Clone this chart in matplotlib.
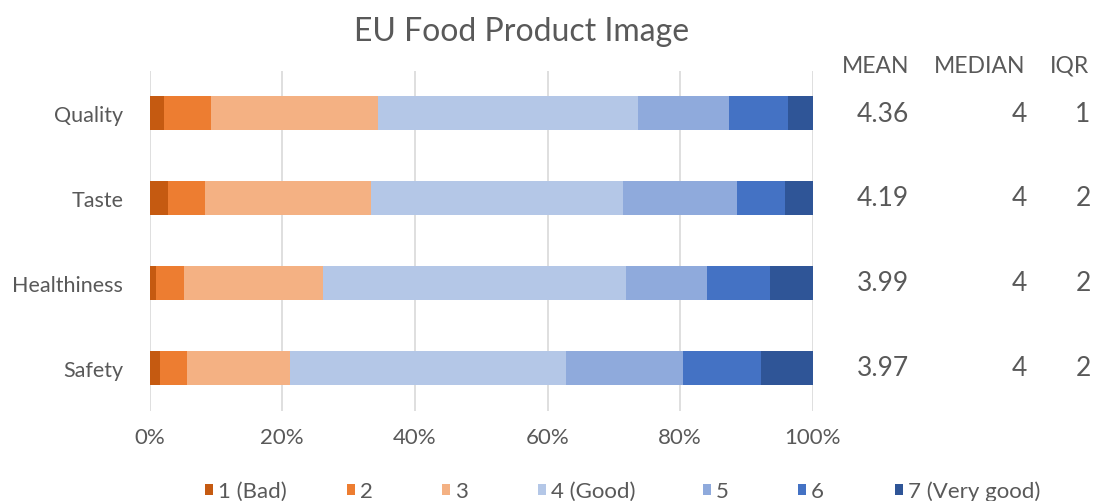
import matplotlib.pyplot as plt
import numpy as np

plt.rcParams['font.family'] = ['Lato', 'DejaVu Sans']

categories = ["Quality", "Taste", "Healthiness", "Safety"]
levels = ["1 (Bad)", "2", "3", "4 (Good)", "5", "6", "7 (Very good)"]
# share of answers per level (%)
quality = [2.2, 7.1, 25.1, 39.3, 13.7, 8.9, 3.7]
taste = [2.8, 5.6, 25.0, 38.0, 17.2, 7.2, 4.2]
healthiness = [1.0, 4.2, 21.0, 45.6, 12.2, 9.5, 6.5]
safety = [1.5, 4.1, 15.5, 41.7, 17.6, 11.8, 7.8]
means = ["4.36", "4.19", "3.99", "3.97"]
medians = ["4", "4", "4", "4"]
iqrs = ["1", "2", "2", "2"]
colors = ["#C55A11", "#ED7D31", "#F4B183", "#B4C7E7", "#8FAADC", "#4472C4", "#2F5597"]

grey = "#595959"
W, H = 1097, 502
data = np.array([quality, taste, healthiness, safety]) / 100.0

fig = plt.figure(figsize=(W/100, H/100), dpi=100)
ax = fig.add_axes([149.7/W, 1 - 411.5/H, 663/W, 339.5/H])

y = np.arange(len(categories))
left = np.zeros(len(categories))
bars = []
for i in range(len(levels)):
    b = ax.barh(y, data[:, i], left=left, height=0.4, color=colors[i], label=levels[i])
    bars.append(b)
    left += data[:, i]

ax.set_ylim(3.5, -0.5)
ax.set_xlim(0, 1)
ticks = np.linspace(0, 1, 6)
ax.set_xticks(ticks)
ax.set_xticklabels([f"{int(round(v*100))}%" for v in ticks])
ax.set_yticks(y)
ax.set_yticklabels(categories)
ax.tick_params(length=0, labelsize=15.5, colors=grey)
ax.tick_params(axis='y', pad=19)
ax.tick_params(axis='x', pad=12, labelsize=16)
ax.xaxis.grid(True, color="#D9D9D9", linewidth=1.2)
ax.set_axisbelow(True)
for s in ax.spines.values():
    s.set_visible(False)

fig.text(522/W, 1 - 32/H, "EU Food Product Image", ha='center', va='center', fontsize=23, color=grey)

# stats table on the right
fig.text(876/W, 1 - 73/H, "MEAN", ha='center', va='baseline', fontsize=16.5, color=grey)
fig.text(980/W, 1 - 73/H, "MEDIAN", ha='center', va='baseline', fontsize=16.5, color=grey)
fig.text(1070/W, 1 - 73/H, "IQR", ha='center', va='baseline', fontsize=16.5, color=grey)
rows_y = [114.5, 199.5, 284, 369]
for ry, m, md, q in zip(rows_y, means, medians, iqrs):
    yb = 1 - (ry + 7)/H
    fig.text(883/W, yb, m, ha='center', va='baseline', fontsize=19, color=grey)
    fig.text(1027/W, yb, md, ha='right', va='baseline', fontsize=19, color=grey)
    fig.text(1083/W, yb, q, ha='center', va='baseline', fontsize=19, color=grey)

# legend entries placed like the Excel legend
leg_x = [205, 347, 442, 538, 703, 798, 895]
for b, lab, lx in zip(bars, levels, leg_x):
    leg = fig.legend(handles=[b], labels=[lab], loc='center left',
                     bbox_to_anchor=(lx/W, 1 - 492/H), frameon=False, fontsize=16,
                     borderpad=0, borderaxespad=0, handlelength=0.38, handleheight=0.38,
                     handletextpad=0.2)
    for t in leg.get_texts():
        t.set_color(grey)

fig.savefig("out.png", dpi=100)
